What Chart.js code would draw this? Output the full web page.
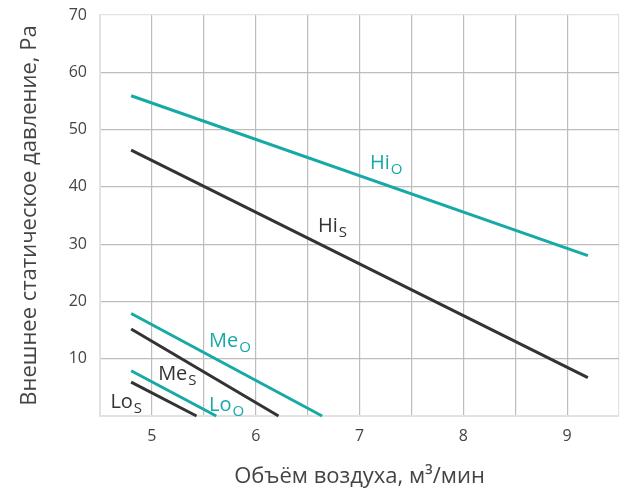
<!DOCTYPE html>
<html>
<head>
<meta charset="utf-8">
<script src="https://cdn.jsdelivr.net/npm/chart.js@4"></script>
<style>
  html, body { margin: 0; padding: 0; background: #fff; }
  #wrap { width: 626px; height: 491px; }
</style>
</head>
<body>
<div id="wrap"><canvas id="c" width="626" height="491"></canvas></div>
<script>
// Fan curves: external static pressure vs air flow
const hiO = [[4.8, 55.9], [9.2, 28.0]];
const hiS = [[4.8, 46.4], [9.2, 6.7]];
const meO = [[4.8, 17.9], [6.64, 0]];
const meS = [[4.8, 15.2], [6.22, 0]];
const loO = [[4.8, 7.9], [5.62, 0]];
const loS = [[4.8, 5.9], [5.43, 0]];
const xTickLabels = [5, 6, 7, 8, 9];
const yTickLabels = [10, 20, 30, 40, 50, 60, 70];
const curveNames = ['Hi', 'Hi', 'Me', 'Me', 'Lo', 'Lo'];
const curveSubs = ['O', 'S', 'O', 'S', 'O', 'S'];

const TEAL = '#17a9a6';
const DARK = '#333333';
const FONT = "'Open Sans', sans-serif";

const toPts = arr => arr.map(([x, y]) => ({ x, y }));
const series = [hiO, hiS, meO, meS, loO, loS];
const colors = [TEAL, DARK, TEAL, DARK, TEAL, DARK];

// label anchors (data coordinates of the left baseline of each curve name)
const labelAnchors = [
  { x: 7.10, y: 43.1 },
  { x: 6.60, y: 32.2 },
  { x: 5.55, y: 12.0 },
  { x: 5.06, y: 6.2 },
  { x: 5.55, y: 0.95 },
  { x: 4.60, y: 1.45 }
];

const curveLabels = {
  id: 'curveLabels',
  afterDatasetsDraw(chart) {
    const { ctx, scales: { x, y } } = chart;
    ctx.save();
    ctx.textBaseline = 'alphabetic';
    ctx.textAlign = 'left';
    labelAnchors.forEach((a, i) => {
      const px = x.getPixelForValue(a.x);
      const py = y.getPixelForValue(a.y);
      ctx.fillStyle = colors[i];
      ctx.font = `20px ${FONT}`;
      ctx.fillText(curveNames[i], px, py);
      const w = ctx.measureText(curveNames[i]).width;
      ctx.font = `15px ${FONT}`;
      ctx.fillText(curveSubs[i], px + w + 1, py + 5);
    });
    ctx.restore();
  }
};

// keep the plot area edges fixed regardless of tick label overhang
function noOverhang(scale) {
  scale.paddingTop = 0;
  scale.paddingBottom = 0;
  scale.paddingLeft = 0;
  scale.paddingRight = 0;
}

new Chart(document.getElementById('c'), {
  type: 'line',
  data: {
    datasets: series.map((s, i) => ({
      label: curveNames[i] + curveSubs[i],
      data: toPts(s),
      borderColor: colors[i],
      borderWidth: 3,
      pointRadius: 0,
      tension: 0,
      fill: false,
      clip: false
    }))
  },
  options: {
    responsive: false,
    animation: false,
    devicePixelRatio: 1,
    layout: { padding: { top: 15, right: 7, left: 0, bottom: 0 } },
    plugins: { legend: { display: false }, tooltip: { enabled: false } },
    scales: {
      x: {
        type: 'linear',
        min: 4.5,
        max: 9.5,
        afterFit(scale) { scale.height = 75; noOverhang(scale); },
        ticks: {
          stepSize: 0.5,
          autoSkip: false,
          maxRotation: 0,
          padding: 11,
          color: '#444',
          font: { family: FONT, size: 16 },
          callback: v => (xTickLabels.includes(v) ? String(v) : '')
        },
        grid: {
          drawTicks: false,
          lineWidth: 1.2,
          color: c => (c.tick && (c.tick.value === 4.5 || c.tick.value === 9.5) ? '#e2e2e2' : '#bdbdbd')
        },
        border: { color: '#e2e2e2', width: 2 },
        title: {
          display: true,
          text: 'Объём воздуха, м³/мин',
          color: '#444',
          font: { family: FONT, size: 22 },
          padding: { top: 0, bottom: 1 }
        }
      },
      y: {
        type: 'linear',
        min: 0,
        max: 70,
        afterFit(scale) { scale.width = 100; noOverhang(scale); },
        ticks: {
          stepSize: 10,
          padding: 13,
          color: '#444',
          font: { family: FONT, size: 16 },
          callback: v => (yTickLabels.includes(v) ? String(v) : '')
        },
        grid: {
          drawTicks: false,
          lineWidth: 1.2,
          color: c => (c.tick && (c.tick.value === 0 || c.tick.value === 70) ? '#e2e2e2' : '#bdbdbd')
        },
        border: { color: '#e2e2e2', width: 2 },
        title: {
          display: true,
          text: 'Внешнее статическое давление, Pa',
          color: '#444',
          font: { family: FONT, size: 22 },
          padding: { top: 17, bottom: 0 }
        }
      }
    }
  },
  plugins: [curveLabels]
});
</script>
</body>
</html>
